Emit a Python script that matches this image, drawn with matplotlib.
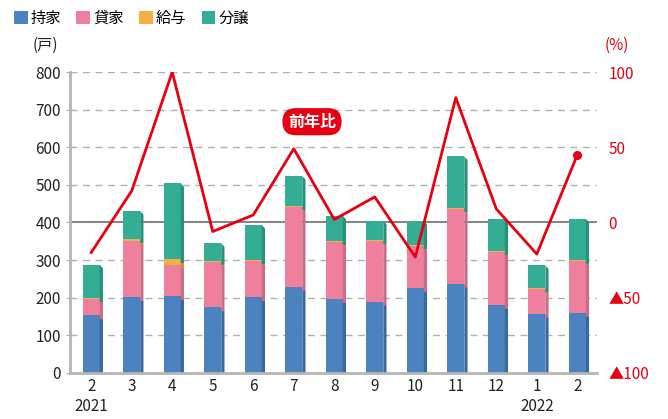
import matplotlib.pyplot as plt
from matplotlib.patches import Patch, Polygon
import numpy as np

plt.rcParams['font.family'] = ['Noto Sans CJK JP', 'DejaVu Sans']

# データ (戸)
months = ['2', '3', '4', '5', '6', '7', '8', '9', '10', '11', '12', '1', '2']
mochiie = [153, 201, 204, 174, 201, 229, 196, 189, 225, 237, 181, 157, 160]   # 持家
kashiya = [43, 149, 84, 121, 96, 213, 151, 162, 112, 200, 140, 66, 137]       # 貸家
kyuyo = [2, 6, 14, 2, 2, 1, 3, 2, 2, 1, 2, 2, 2]                              # 給与
bunjo = [90, 75, 202, 48, 95, 81, 68, 52, 66, 138, 86, 61, 111]               # 分譲
# 前年比 (%)
yoy = [-20, 21, 100, -6, 5, 49, 2, 17, -23, 83, 9, -21, 45]

names = ['持家', '貸家', '給与', '分譲']
colors = ['#4a83c0', '#ee809d', '#f6af42', '#33ae94']
side_colors = ['#3a6a9c', '#c96c86', '#d0913a', '#28917a']
red = '#e60012'

fig = plt.figure(figsize=(6.68, 4.19), dpi=100)
ax = fig.add_axes([0.105, 0.110, 0.789, 0.718])

x = np.arange(len(months))
w = 0.42
dx = 0.08   # 側面の幅
dy = 10     # 側面の傾き

bottom = np.zeros(len(months))
for vals, c, sc in zip([mochiie, kashiya, kyuyo, bunjo], colors, side_colors):
    vals = np.array(vals, dtype=float)
    ax.bar(x, vals, w, bottom=bottom, color=c, zorder=3)
    for xi, b, v in zip(x, bottom, vals):
        xr = xi + w / 2
        poly = Polygon([(xr, b), (xr, b + v), (xr + dx, b + v - dy),
                        (xr + dx, max(b - dy, 0)), (xr, max(b - dy, 0))],
                       closed=True, facecolor=sc, edgecolor='none', zorder=3)
        ax.add_patch(poly)
    bottom += vals

ax.set_xlim(-0.52, 12.49)
ax.set_ylim(0, 800)
ax.set_yticks(range(0, 801, 100))
for v in range(100, 801, 100):
    if v == 400:
        ax.axhline(v, color='#7a7a7a', lw=1.3, zorder=2)
    else:
        ax.axhline(v, color='#b0b0b0', lw=1.0, ls=(0, (5, 4)), zorder=1)

ax.set_xticks(x)
ax.set_xticklabels(months)
ax.tick_params(axis='x', length=0, labelsize=11, colors='#222222', pad=4)
ax.tick_params(axis='y', length=3, color='#b0b0b0', labelsize=11, colors='#222222')
for s in ['top', 'right']:
    ax.spines[s].set_visible(False)
ax.spines['left'].set_color('#b5b5b5')
ax.spines['left'].set_linewidth(2)
ax.spines['bottom'].set_color('#b5b5b5')
ax.spines['bottom'].set_linewidth(2)
ax.spines['bottom'].set_zorder(4)

ax.text(0, -0.082, '2021', transform=ax.get_xaxis_transform(), ha='center', va='top',
        fontsize=11, color='#222222')
ax.text(11, -0.082, '2022', transform=ax.get_xaxis_transform(), ha='center', va='top',
        fontsize=11, color='#222222')

# 前年比
ax2 = ax.twinx()
ax2.set_ylim(-100, 100)
ax2.plot(x, yoy, color=red, lw=2.0, marker='o', markersize=5.5,
         markevery=[len(yoy) - 1], zorder=5)
ax2.set_yticks([100, 50, 0, -50, -100])
ax2.set_yticklabels(['100', '50', '0', '▲50', '▲100'])
ax2.tick_params(axis='y', length=0, labelsize=11, labelcolor=red, pad=8)
for s in ['top', 'right', 'left', 'bottom']:
    ax2.spines[s].set_visible(False)

ax2.text(5.45, 67, '前年比', ha='center', va='center', fontsize=11.5, fontweight='bold',
         color='white', zorder=6,
         bbox=dict(boxstyle='round,pad=0.35,rounding_size=0.85', facecolor=red, edgecolor='none'))

fig.text(0.068, 0.872, '(戸)', ha='center', va='bottom', fontsize=11, color='#222222')
fig.text(0.924, 0.872, '(%)', ha='center', va='bottom', fontsize=11, color=red)

handles = [Patch(facecolor=c, edgecolor='none') for c in colors]
fig.legend(handles, names, loc='upper left', bbox_to_anchor=(0.0, 1.01), ncol=4,
           frameon=False, fontsize=11, handlelength=0.9, handleheight=0.9,
           handletextpad=0.2, columnspacing=1.0)

fig.savefig('out.png', dpi=100)
